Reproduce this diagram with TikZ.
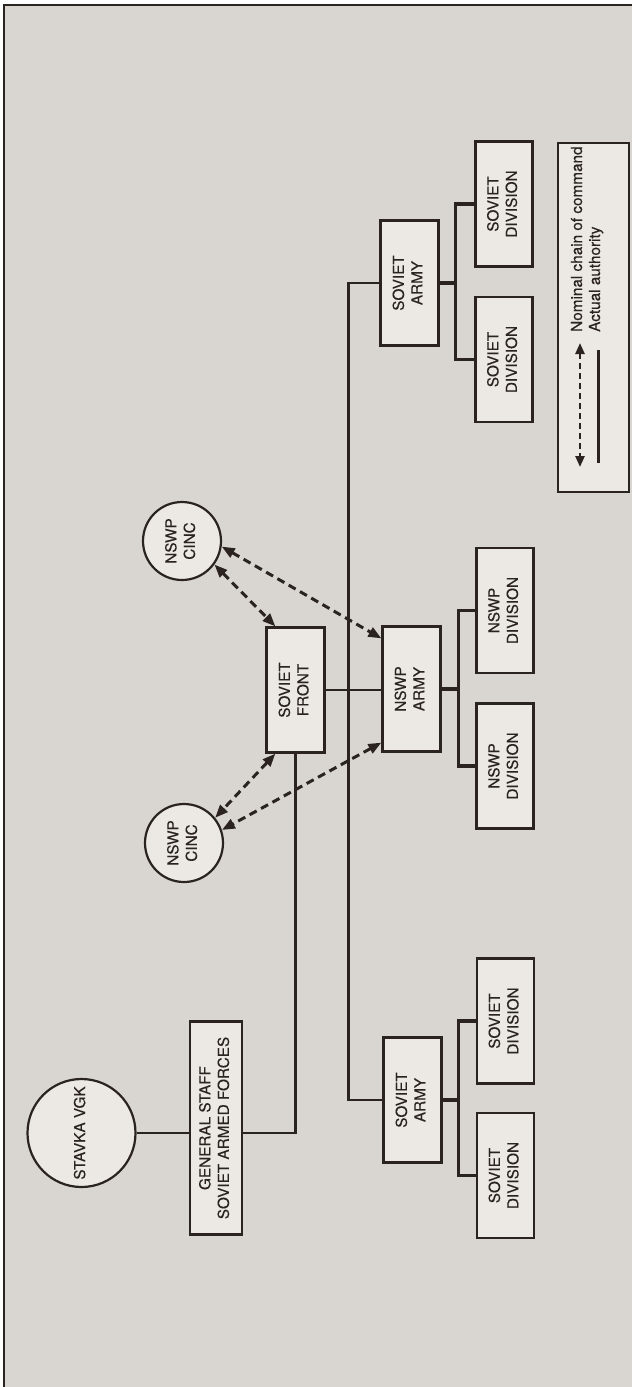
\documentclass[tikz,border=0pt]{standalone}
\usepackage{fontspec}
\setmainfont{TeX Gyre Heros}[FakeBold=0.3]
\usepackage{graphicx}
\usetikzlibrary{arrows.meta}
\definecolor{bg}{HTML}{D9D6D1}
\definecolor{boxfill}{HTML}{ECE9E5}
\definecolor{ink}{HTML}{2B2320}
\newcommand{\rtext}[1]{\rotatebox{90}{\begin{tabular}{@{}c@{}}#1\end{tabular}}}
\begin{document}
\begin{tikzpicture}[x=1pt,y=-1pt,
  every node/.style={font=\fontsize{15.3}{18.5}\selectfont, text=ink},
  orgbox/.style={rectangle, draw=ink, line width=2.2pt, fill=boxfill, inner sep=0pt,
                 minimum width=58pt, minimum height=125pt},
  divbox/.style={orgbox, minimum width=57pt},
  gsbox/.style={orgbox, minimum width=52pt, minimum height=213pt},
  bigcirc/.style={circle, draw=ink, line width=2.2pt, fill=boxfill, inner sep=0pt, minimum size=108pt},
  cinc/.style={bigcirc, minimum size=78pt},
  link/.style={draw=ink, line width=2.8pt},
  tree/.style={draw=ink, line width=3.2pt},
  nominal/.style={draw=ink, line width=3pt, dash pattern=on 8pt off 5pt, {Triangle[length=13pt,width=10pt]}-{Triangle[length=13pt,width=10pt]}},
  legdash/.style={draw=ink, line width=2.4pt, dash pattern=on 6pt off 4pt, {Triangle[length=11pt,width=9pt]}-{Triangle[length=11pt,width=9pt]}},
  frameline/.style={draw=ink, line width=2.4pt}
]
\useasboundingbox (0,0) rectangle (632,1387);
\fill[white] (0,0) rectangle (632,1387);
\fill[bg] (4,5) rectangle (632,1387);
\coordinate (fTL) at (4,5);
\coordinate (fTR) at (632,5);
\coordinate (fBL) at (4,1387);
\draw[frameline] (fTR) -- (fTL) -- (fBL);

% nodes
\node[bigcirc] (stavka) at (81.5,1133) {\rtext{STAVKA VGK}};
\node[gsbox] (gs) at (216,1128) {\rtext{GENERAL STAFF\\SOVIET ARMED FORCES}};
\node[orgbox] (front) at (295.5,690) {\rtext{SOVIET\\FRONT}};
\node[orgbox] (narmy) at (411.5,689) {\rtext{NSWP\\ARMY}};
\node[orgbox] (sarmyT) at (409.5,283) {\rtext{SOVIET\\ARMY}};
\node[orgbox] (sarmyB) at (412.5,1100) {\rtext{SOVIET\\ARMY}};
\node[cinc] (cincT) at (182,541) {\rtext{NSWP\\CINC}};
\node[cinc] (cincB) at (184,843) {\rtext{NSWP\\CINC}};

\node[divbox] (d1) at (504,204) {\rtext{SOVIET\\DIVISION}};
\node[divbox] (d2) at (504,359.5) {\rtext{SOVIET\\DIVISION}};
\node[divbox] (d3) at (505,610.5) {\rtext{NSWP\\DIVISION}};
\node[divbox] (d4) at (505,766) {\rtext{NSWP\\DIVISION}};
\node[divbox] (d5) at (505.5,1021) {\rtext{SOVIET\\DIVISION}};
\node[divbox] (d6) at (505.5,1175.5) {\rtext{SOVIET\\DIVISION}};

% legend
\node[draw=ink, line width=2.2pt, fill=boxfill, minimum width=71pt, minimum height=349pt, inner sep=0pt] (legend) at (593.5,317.5) {};
\node[rotate=90, anchor=base west, inner sep=0pt] (legN) at (582,332) {Nominal chain of command};
\node[rotate=90, anchor=base west, inner sep=0pt] (legA) at (600,332) {Actual authority};
\coordinate (lnA) at (580,343);
\coordinate (lnB) at (580,467);
\coordinate (laA) at (598,350);
\coordinate (laB) at (598,463);
\draw[legdash] (lnA) -- (lnB);
\draw[link, line width=3pt] (laA) -- (laB);

% actual authority links
\draw[link] (stavka.east) -- (stavka.east -| gs.west);
\draw[link] (gs.east |- stavka.east) -| (front.south);
\draw[link] (front.east) -- (front.east -| narmy.west);
\draw[link] (sarmyT.west) -- ++(-31,0) |- (sarmyB.west);

\draw[tree] (sarmyT.east) -- ++(16,0) coordinate (j1);
\draw[tree] (d1.west) -| (j1) |- (d2.west);
\draw[tree] (narmy.east) -- ++(17,0) coordinate (j2);
\draw[tree] (d3.west) -| (j2) |- (d4.west);
\draw[tree] (sarmyB.east) -- ++(16,0) coordinate (j3);
\draw[tree] (d5.west) -| (j3) |- (d6.west);

% nominal chain of command
\draw[nominal] (cincT.-36) -- ([xshift=10pt]front.north west);
\draw[nominal] (cincT.-8) -- ([yshift=-13pt]narmy.north west);
\draw[nominal] ([xshift=10pt]front.south west) -- (cincB.39);
\draw[nominal] ([yshift=10pt]narmy.south west) -- (cincB.19);
\end{tikzpicture}
\end{document}
